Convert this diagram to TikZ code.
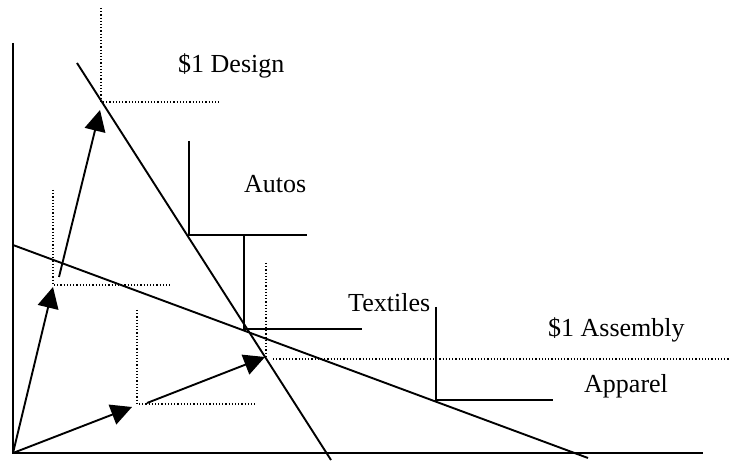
\documentclass[tikz,border=0pt]{standalone}
\usepackage{fontspec}
\setmainfont{Liberation Serif}
\usetikzlibrary{arrows.meta}
\begin{document}
\begin{tikzpicture}[x=1pt,y=-1pt,
  axis/.style={line width=2.2pt},
  solid line/.style={line width=1.9pt},
  dotline/.style={line width=1.2pt, dash pattern=on 1.2pt off 2pt},
  bigarrow/.style={line width=1.9pt, -{Triangle[length=21pt,width=21pt]}},
  lbl/.style={font=\fontsize{26}{30}\selectfont, inner sep=0pt, anchor=base west}]
\useasboundingbox (0,0) rectangle (729,462);
% coordinates
\coordinate (O) at (13,453);
\coordinate (ytop) at (13,43);
\coordinate (xend) at (703,453);
\coordinate (d1) at (77,63);
\coordinate (d2) at (331,460);
\coordinate (a1) at (13,245);
\coordinate (a2) at (588,458);
% axes
\draw[axis] (ytop) -- (O) -- (xend);
% lines
\draw[solid line] (d1) -- (d2);
\draw[solid line] (a1) -- (a2);
% dotted guides
\coordinate (p1) at (101,102);
\draw[dotline] (101,8) -- (p1) -- (219,102);
\coordinate (p2) at (53,285);
\draw[dotline] (53,190) -- (p2) -- (171,285);
\coordinate (p3) at (137,404);
\draw[dotline] (137,310) -- (p3) -- (255,404);
\coordinate (p4) at (266,357);
\draw[dotline] (266,263) -- (p4);
\draw[dotline] (273,359) -- (729,359);
% solid bracket lines
\draw[solid line] (189,141) -- (189,235) -- (307,235);
\draw[solid line] (244,235) -- (244,329) -- (362,329);
\draw[solid line] (436,307) -- (436,400) -- (553,400);
% arrows
\coordinate (t1) at (53,287);
\coordinate (s2) at (59,277);
\coordinate (t2) at (100,110);
\coordinate (t3) at (132,407);
\coordinate (s4) at (147,403);
\coordinate (t4) at (265,357);
\draw[bigarrow] (O) -- (t1);
\draw[bigarrow] (s2) -- (t2);
\draw[bigarrow] (O) -- (t3);
\draw[bigarrow] (s4) -- (t4);
% labels
\node[lbl] (design) at (178,73) {\$1 Design};
\node[lbl] (autos) at (244,193) {Autos};
\node[lbl] (textiles) at (348,312) {Textiles};
\node[lbl] (assembly) at (548,337) {\$1 Assembly};
\node[lbl] (apparel) at (584,393) {Apparel};
\end{tikzpicture}
\end{document}
